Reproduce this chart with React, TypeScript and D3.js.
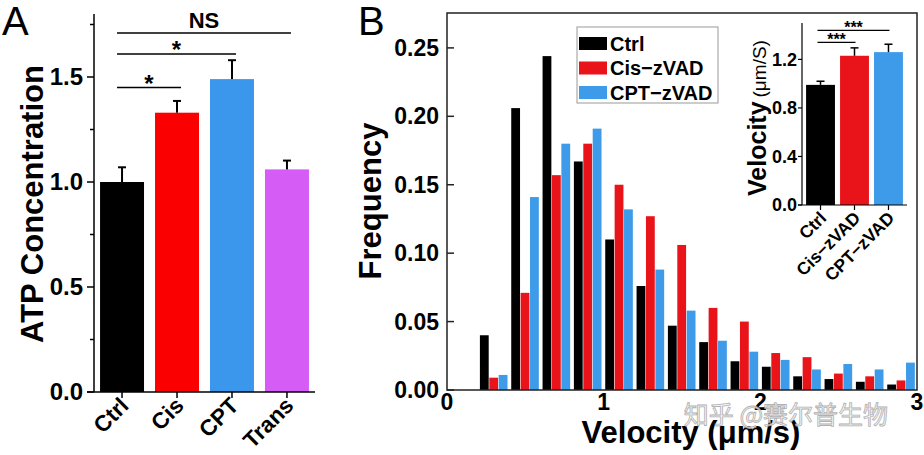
import React from "react";
import * as d3 from "d3";

// panel A: ATP concentration
const atpCategories = ["Ctrl", "Cis", "CPT", "Trans"];
const atpValues = [1.0, 1.33, 1.49, 1.06];
const atpErrors = [0.07, 0.056, 0.09, 0.042];
const atpColors = ["#000000", "#fb0000", "#3a97ec", "#d65cf6"];
const atpTicks = [0, 0.5, 1.0, 1.5];
const atpMinorTicks = [0.25, 0.75, 1.25, 1.75];

// panel B: velocity histogram
const binCenters = [0.3, 0.5, 0.7, 0.9, 1.1, 1.3, 1.5, 1.7, 1.9, 2.1, 2.3, 2.5, 2.7, 2.9];
const ctrlFreq = [0.040, 0.206, 0.244, 0.167, 0.110, 0.076, 0.047, 0.035, 0.021, 0.017, 0.010, 0.008, 0.006, 0.004];
const cisFreq = [0.009, 0.071, 0.157, 0.180, 0.150, 0.127, 0.106, 0.060, 0.050, 0.027, 0.024, 0.012, 0.010, 0.007];
const cptFreq = [0.011, 0.141, 0.180, 0.191, 0.132, 0.088, 0.058, 0.036, 0.028, 0.022, 0.015, 0.019, 0.015, 0.020];
const histSeries = ["Ctrl", "Cis−zVAD", "CPT−zVAD"];
const histColors = ["#000000", "#e8141a", "#3d9be9"];
const freqTicks = [0, 0.05, 0.1, 0.15, 0.2, 0.25];
const velTicks = [0, 1, 2, 3];

// inset: mean velocity
const velCategories = ["Ctrl", "Cis−zVAD", "CPT−zVAD"];
const velValues = [0.99, 1.23, 1.26];
const velErrors = [0.03, 0.065, 0.065];
const insetTicks = [0, 0.4, 0.8, 1.2];

const FONT = "'Liberation Sans', Arial, sans-serif";

function PanelA() {
    const x = d3.scaleBand<string>().domain(atpCategories).range([94, 315]).paddingInner(0.2).paddingOuter(0.11);
    const y = d3.scaleLinear().domain([0, 1.8]).range([392, 14]);
    const cx = (c: string) => (x(c) ?? 0) + x.bandwidth() / 2;
    const brackets = [
        { to: "Cis", value: 1.45, label: "*" },
        { to: "CPT", value: 1.61, label: "*" },
        { to: "Trans", value: 1.71, label: "NS" },
    ];
    return <g>
        <text x={2} y={35} fontSize={40} fontFamily={FONT}>A</text>
        <text transform={`translate(43,204) rotate(-90)`} textAnchor="middle" fontSize={31} fontWeight="bold" fontFamily={FONT}>ATP Concentration</text>
        {atpCategories.map((c, i) => <g key={c}>
            <rect x={x(c)} y={y(atpValues[i])} width={x.bandwidth()} height={y(0) - y(atpValues[i])} fill={atpColors[i]} />
            <line x1={cx(c)} x2={cx(c)} y1={y(atpValues[i])} y2={y(atpValues[i] + atpErrors[i])} stroke="#000" strokeWidth={2} />
            <line x1={cx(c) - 4} x2={cx(c) + 4} y1={y(atpValues[i] + atpErrors[i])} y2={y(atpValues[i] + atpErrors[i])} stroke="#000" strokeWidth={2} />
            <line x1={cx(c)} x2={cx(c)} y1={y(0)} y2={y(0) + 6} stroke="#000" strokeWidth={1.5} />
            <text transform={`translate(${cx(c) + 8},${y(0) + 15}) rotate(-45)`} textAnchor="end" fontSize={22.5} fontWeight="bold" fontFamily={FONT}>{c}</text>
        </g>)}
        <line x1={94} x2={94} y1={y(1.8)} y2={y(0)} stroke="#000" strokeWidth={1.5} />
        <line x1={87} x2={315} y1={y(0)} y2={y(0)} stroke="#000" strokeWidth={1.5} />
        {atpTicks.map(t => <g key={t}>
            <line x1={87} x2={94} y1={y(t)} y2={y(t)} stroke="#000" strokeWidth={1.5} />
            <text x={83} y={y(t)} dy="0.35em" textAnchor="end" fontSize={24} fontWeight="bold" fontFamily={FONT}>{t.toFixed(1)}</text>
        </g>)}
        {atpMinorTicks.map(t => <line key={t} x1={90} x2={94} y1={y(t)} y2={y(t)} stroke="#000" strokeWidth={1.5} />)}
        {brackets.map(b => {
            const x1 = cx("Ctrl") - 5;
            const x2 = cx(b.to) + 4;
            return <g key={b.to}>
                <line x1={x1} x2={x2} y1={y(b.value)} y2={y(b.value)} stroke="#000" strokeWidth={1.5} />
                <text x={(x1 + x2) / 2} y={y(b.value) - (b.label === "*" ? -4 : 5)} textAnchor="middle" fontSize={b.label === "*" ? 24 : 22} fontWeight="bold" fontFamily={FONT}>{b.label}</text>
            </g>;
        })}
    </g>;
}

function PanelB() {
    const x = d3.scaleLinear().domain([0, 3]).range([447, 917]);
    const y = d3.scaleLinear().domain([0, 0.2755]).range([390, 13]);
    const barW = 0.06;
    const series = [ctrlFreq, cisFreq, cptFreq];
    return <g>
        <text x={358} y={35} fontSize={40} fontFamily={FONT}>B</text>
        <text transform={`translate(381,201) rotate(-90)`} textAnchor="middle" fontSize={31} fontWeight="bold" fontFamily={FONT}>Frequency</text>
        {series.map((vals, s) => <g key={s} fill={histColors[s]}>
            {binCenters.map((c, i) => {
                const x0 = c - 1.5 * barW + s * barW;
                return <rect key={i} x={x(x0)} y={y(vals[i])} width={x(x0 + barW) - x(x0) - 0.6} height={y(0) - y(vals[i])} />;
            })}
        </g>)}
        <rect x={x(0)} y={y(0.2755)} width={x(3) - x(0)} height={y(0) - y(0.2755)} fill="none" stroke="#222" strokeWidth={1.5} />
        {freqTicks.map(t => <g key={t}>
            <line x1={x(0)} x2={x(0) + 7} y1={y(t)} y2={y(t)} stroke="#222" strokeWidth={1.5} />
            <text x={439} y={y(t)} dy="0.35em" textAnchor="end" fontSize={23} fontWeight="bold" fontFamily={FONT}>{t.toFixed(2)}</text>
        </g>)}
        {velTicks.map(t => <text key={t} x={x(t)} y={410} textAnchor="middle" fontSize={23} fontWeight="bold" fontFamily={FONT}>{t}</text>)}
        <text x={691} y={443} textAnchor="middle" fontSize={31} fontWeight="bold" fontFamily={FONT}>Velocity (μm/s)</text>
        <rect x={577} y={27} width={141} height={76} fill="#fff" stroke="#999" strokeWidth={1} />
        {histSeries.map((name, i) => <g key={name}>
            <rect x={579} y={37 + i * 24.5} width={28} height={13} fill={histColors[i]} />
            <text x={610} y={43.5 + i * 24.5} dy="0.35em" fontSize={20} fontWeight="bold" fontFamily={FONT}>{name}</text>
        </g>)}
        <Inset />
        <text x={786} y={424} textAnchor="middle" fontSize={25} fontFamily="'Noto Sans CJK SC', sans-serif" fill="#f6f6f6" stroke="#a8a8a8" strokeWidth={0.8} opacity={0.9}>知乎 @赛尔普生物</text>
    </g>;
}

function Inset() {
    const x = d3.scaleBand<string>().domain(velCategories).range([802, 907]).paddingInner(0.15).paddingOuter(0.12);
    const y = d3.scaleLinear().domain([0, 1.5]).range([205, 23]);
    const cx = (c: string) => (x(c) ?? 0) + x.bandwidth() / 2;
    const brackets = [
        { to: velCategories[1], value: 1.34 },
        { to: velCategories[2], value: 1.44 },
    ];
    return <g>
        <text transform={`translate(766,118) rotate(-90)`} textAnchor="middle" fontFamily={FONT}>
            <tspan fontSize={25} fontWeight="bold">Velocity</tspan>
            <tspan fontSize={19} dx={4}>(μm/S)</tspan>
        </text>
        {velCategories.map((c, i) => <g key={c}>
            <rect x={x(c)} y={y(velValues[i])} width={x.bandwidth()} height={y(0) - y(velValues[i])} fill={histColors[i]} />
            <line x1={cx(c)} x2={cx(c)} y1={y(velValues[i])} y2={y(velValues[i] + velErrors[i])} stroke="#000" strokeWidth={1.5} />
            <line x1={cx(c) - 4} x2={cx(c) + 4} y1={y(velValues[i] + velErrors[i])} y2={y(velValues[i] + velErrors[i])} stroke="#000" strokeWidth={1.5} />
            <line x1={cx(c)} x2={cx(c)} y1={y(0)} y2={y(0) + 5} stroke="#000" strokeWidth={1.2} />
            <text transform={`translate(${cx(c) + 7},${y(0) + 14}) rotate(-45)`} textAnchor="end" fontSize={17.5} fontWeight="bold" fontFamily={FONT}>{c}</text>
        </g>)}
        <line x1={802} x2={802} y1={y(1.5)} y2={y(0)} stroke="#000" strokeWidth={1.2} />
        <line x1={798} x2={907} y1={y(0)} y2={y(0)} stroke="#000" strokeWidth={1.2} />
        {insetTicks.map(t => <g key={t}>
            <line x1={798} x2={802} y1={y(t)} y2={y(t)} stroke="#000" strokeWidth={1.2} />
            <text x={797} y={y(t)} dy="0.35em" textAnchor="end" fontSize={18} fontWeight="bold" fontFamily={FONT}>{t.toFixed(1)}</text>
        </g>)}
        {brackets.map(b => {
            const x1 = cx(velCategories[0]) - 3;
            const x2 = cx(b.to) + 1;
            return <g key={b.to}>
                <line x1={x1} x2={x2} y1={y(b.value)} y2={y(b.value)} stroke="#000" strokeWidth={1.2} />
                <text x={(x1 + x2) / 2} y={y(b.value) + 3} textAnchor="middle" fontSize={16} fontWeight="bold" fontFamily={FONT}>***</text>
            </g>;
        })}
    </g>;
}

export default function App() {
    return <div style={{ position: "fixed", left: 0, top: 0, background: "#fff" }}>
        <svg width={924} height={455} style={{ display: "block" }}>
            <rect width={924} height={455} fill="#fff" />
            <PanelA />
            <PanelB />
        </svg>
    </div>;
}
